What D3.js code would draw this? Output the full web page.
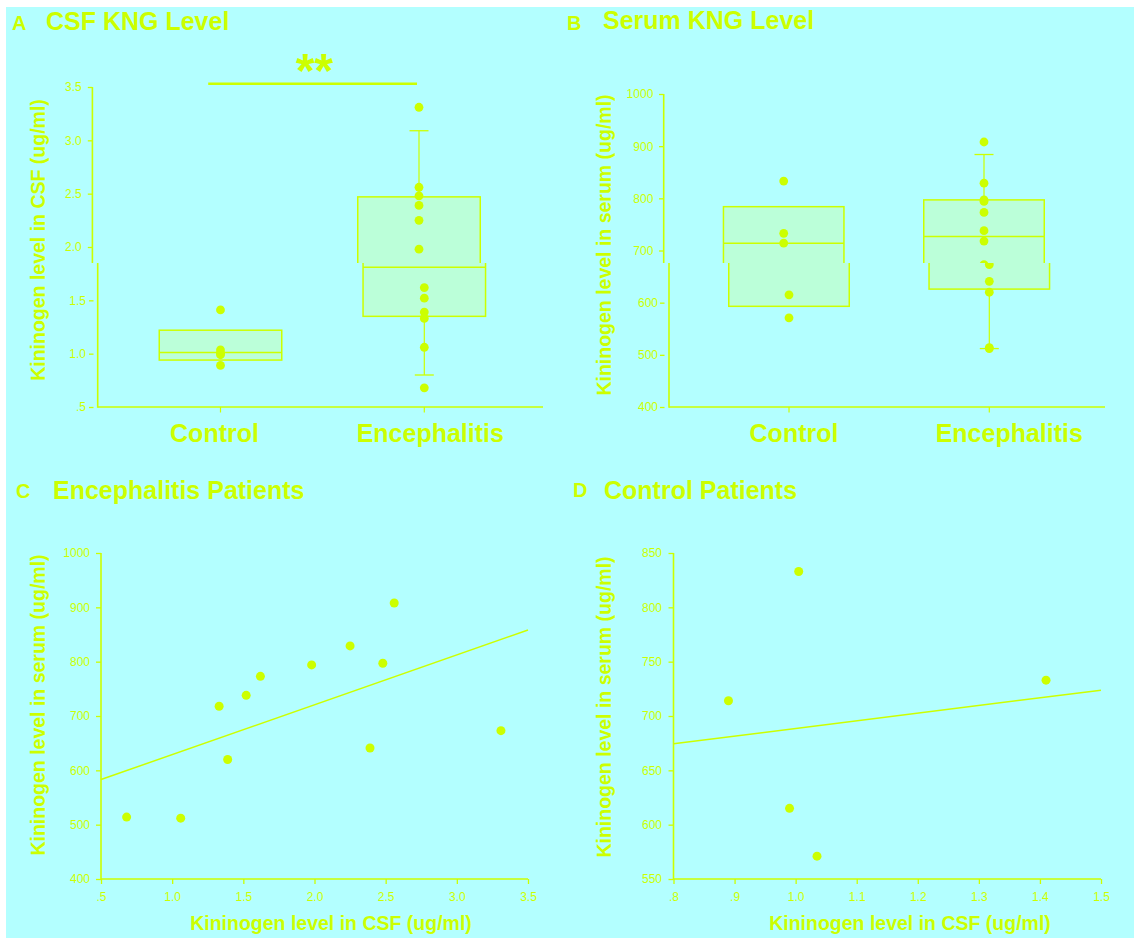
<!DOCTYPE html>
<html><head><meta charset="utf-8">
<script src="https://cdn.jsdelivr.net/npm/d3@7"></script>
<style>
html,body{margin:0;padding:0;background:#ffffff;}
svg{display:block;}
text{font-family:"Liberation Sans",Arial,Helvetica,sans-serif;}
</style>
</head><body>
<svg id="chart" width="1134" height="938"></svg>
<script>
// ---------------- data ----------------
const groups = ["Control", "Encephalitis"];
// CSF kininogen (ug/ml) per patient
const csfControl = [0.89, 0.99, 1.005, 1.035, 1.41];
const csfEnceph = [0.68, 1.06, 1.33, 1.39, 1.52, 1.62, 1.98, 2.25, 2.39, 2.48, 2.56, 3.31];
// Serum kininogen (ug/ml), same patient order
const serumControl = [714, 615, 833, 571, 733];
const serumEnceph = [514, 512, 718, 620, 738, 773, 794, 829, 641, 797, 908, 673];
// box summaries [Control, Encephalitis]
const csfQ1 = [0.94, 1.35], csfMedian = [1.01, 1.81], csfQ3 = [1.22, 2.47];
const csfWhiskerLow = [null, 0.80], csfWhiskerHigh = [null, 3.09];
const serumQ1 = [593, 626], serumMedian = [714, 727], serumQ3 = [784, 797];
const serumWhiskerLow = [null, 512], serumWhiskerHigh = [null, 884];
// ticks
const csfTicksUpper = [2.0, 2.5, 3.0, 3.5], csfTicksLower = [0.5, 1.0, 1.5];
const serumTicksUpper = [700, 800, 900, 1000], serumTicksLower = [400, 500, 600];
const scatterCsfTicks = [0.5, 1.0, 1.5, 2.0, 2.5, 3.0, 3.5];
const scatterSerumTicks = [400, 500, 600, 700, 800, 900, 1000];
const controlCsfTicks = [0.8, 0.9, 1.0, 1.1, 1.2, 1.3, 1.4, 1.5];
const controlSerumTicks = [550, 600, 650, 700, 750, 800, 850];
const titles = ["CSF KNG Level", "Serum KNG Level", "Encephalitis Patients", "Control Patients"];
const letters = ["A", "B", "C", "D"];
const yLabelCsf = "Kininogen level in CSF (ug/ml)";
const yLabelSerum = "Kininogen level in serum (ug/ml)";
const xLabelCsf = "Kininogen level in CSF (ug/ml)";
const sigText = "**";

// ---------------- style ----------------
const YEL = "#ccff00", BG = "#b3ffff", FILL = "#bbffd9";
const svg = d3.select("#chart");
svg.append("rect").attr("x", 6).attr("y", 7).attr("width", 1128).attr("height", 931).attr("fill", BG);
const defs = svg.append("defs");
const BREAK = 263, SHIFT = -5.3;
defs.append("clipPath").attr("id", "cu").append("rect").attr("x", 0).attr("y", 0).attr("width", 1134).attr("height", BREAK);
defs.append("clipPath").attr("id", "cl").append("rect").attr("x", 0).attr("y", BREAK).attr("width", 1134).attr("height", 938 - BREAK);

const fmtDec = d => { const s = d3.format(".1f")(d); return s.startsWith("0") ? s.slice(1) : s; };
const fmtInt = d3.format("d");

// ---------------- scales ----------------
const yA = d3.scaleLinear().domain([0.5, 3.5]).range([407, 87]);
const xA = d3.scalePoint().domain(groups).range([220.5, 424.3]);
const yB = d3.scaleLinear().domain([400, 1000]).range([407, 94]);
const xB = d3.scalePoint().domain(groups).range([789, 989.3]);
const xC = d3.scaleLinear().domain([0.5, 3.5]).range([101, 528]);
const yC = d3.scaleLinear().domain([400, 1000]).range([879, 553]);
const xD = d3.scaleLinear().domain([0.8, 1.5]).range([673.5, 1101]);
const yD = d3.scaleLinear().domain([550, 850]).range([879, 553]);

// ---------------- box panels ----------------
function boxContent(g, dx, o, upper) {
  const cx = name => o.x(name) + dx;
  const data = groups.map((name, i) => ({name, q1: o.q1[i], med: o.med[i], q3: o.q3[i], lo: o.lo[i], hi: o.hi[i], vals: o.vals[i]}));
  const y = o.y;
  g.append("line").attr("x1", o.axisX + dx).attr("x2", o.axisX + dx)
    .attr("y1", y(o.y.domain()[1])).attr("y2", y(o.y.domain()[0]) + 0.75)
    .attr("stroke", YEL).attr("stroke-width", 1.6);
  g.append("line").attr("x1", o.axisX + dx).attr("x2", o.axisRight)
    .attr("y1", y(o.y.domain()[0])).attr("y2", y(o.y.domain()[0]))
    .attr("stroke", YEL).attr("stroke-width", 1.6);
  data.filter(d => d.hi != null).forEach(d => {
    const c = cx(d.name);
    g.append("line").attr("x1", c).attr("x2", c).attr("y1", y(d.q3)).attr("y2", y(d.hi)).attr("stroke", YEL).attr("stroke-width", 1.2);
    g.append("line").attr("x1", c).attr("x2", c).attr("y1", y(d.q1)).attr("y2", y(d.lo)).attr("stroke", YEL).attr("stroke-width", 1.2);
    [d.hi, d.lo].forEach(v => g.append("line").attr("x1", c - o.cap / 2).attr("x2", c + o.cap / 2)
      .attr("y1", y(v)).attr("y2", y(v)).attr("stroke", YEL).attr("stroke-width", 1.3));
  });
  g.selectAll("rect.box").data(data).join("rect").attr("class", "box")
    .attr("x", d => cx(d.name) - o.boxW / 2).attr("width", o.boxW)
    .attr("y", d => y(d.q3)).attr("height", d => y(d.q1) - y(d.q3))
    .attr("fill", FILL).attr("stroke", YEL).attr("stroke-width", 1.5);
  g.selectAll("line.med").data(data).join("line").attr("class", "med")
    .attr("x1", d => cx(d.name) - o.boxW / 2).attr("x2", d => cx(d.name) + o.boxW / 2)
    .attr("y1", d => y(d.med)).attr("y2", d => y(d.med))
    .attr("stroke", YEL).attr("stroke-width", 1.5);
  data.forEach(d => {
    g.selectAll(null).data(d.vals).join("circle")
      .attr("cx", cx(d.name)).attr("cy", v => y(v)).attr("r", 4.4).attr("fill", YEL);
  });
  if (!upper) {
    g.selectAll("line.ct").data(groups).join("line").attr("class", "ct")
      .attr("x1", d => cx(d)).attr("x2", d => cx(d))
      .attr("y1", y(o.y.domain()[0])).attr("y2", y(o.y.domain()[0]) + 5.5)
      .attr("stroke", YEL).attr("stroke-width", 1.2);
  }
  if (o.sig && upper) {
    const x1 = cx(groups[0]) - 7, x2 = cx(groups[1]) - 2;
    g.append("line").attr("x1", x1).attr("x2", x2).attr("y1", 83.7).attr("y2", 83.7)
      .attr("stroke", YEL).attr("stroke-width", 2.6);
    g.append("text").attr("x", (x1 + x2) / 2 + 2).attr("y", 87).attr("text-anchor", "middle")
      .attr("font-size", 48).attr("font-weight", "bold").attr("fill", YEL).text(sigText);
  }
}

const panelA = {x: xA, y: yA, q1: csfQ1, med: csfMedian, q3: csfQ3, lo: csfWhiskerLow, hi: csfWhiskerHigh,
  vals: [csfControl, csfEnceph], boxW: 122.5, cap: 19, axisX: 97.7, axisRight: 543, sig: true};
const panelB = {x: xB, y: yB, q1: serumQ1, med: serumMedian, q3: serumQ3, lo: serumWhiskerLow, hi: serumWhiskerHigh,
  vals: [serumControl, serumEnceph], boxW: 120.5, cap: 19, axisX: 669, axisRight: 1105, sig: false};

[panelA, panelB].forEach(p => {
  boxContent(svg.append("g").attr("clip-path", "url(#cu)"), SHIFT, p, true);
  boxContent(svg.append("g").attr("clip-path", "url(#cl)"), 0, p, false);
});

function yTicks(scale, vals, x, pad, fmt, size) {
  const ax = d3.axisLeft(scale).tickValues(vals).tickSize(size).tickSizeOuter(0).tickPadding(pad).tickFormat(fmt);
  const g = svg.append("g").attr("transform", `translate(${x},0)`).call(ax);
  g.select(".domain").remove();
  g.selectAll(".tick line").attr("stroke", YEL).attr("stroke-width", 1.3);
  g.selectAll(".tick text").attr("fill", YEL).attr("font-size", 12);
  return g;
}
function xTicks(scale, vals, y, fmt) {
  const ax = d3.axisBottom(scale).tickValues(vals).tickSize(5).tickSizeOuter(0).tickPadding(8.3).tickFormat(fmt);
  const g = svg.append("g").attr("transform", `translate(0,${y})`).call(ax);
  g.select(".domain").remove();
  g.selectAll(".tick line").attr("stroke", YEL).attr("stroke-width", 1.3);
  g.selectAll(".tick text").attr("fill", YEL).attr("font-size", 12);
  return g;
}

yTicks(yA, csfTicksUpper, 92.3, 6, fmtDec, 4.5);
yTicks(yA, csfTicksLower, 93.5, 3, fmtDec, 4.5);
yTicks(yB, serumTicksUpper, 663.5, 5.7, fmtInt, 4.5);
yTicks(yB, serumTicksLower, 664.5, 2, fmtInt, 4.5);

// category labels
const catNudgeA = [-6, 6], catNudgeB = [5, 20];
[[xA, catNudgeA], [xB, catNudgeB]].forEach(([sc, nudge]) => {
  svg.selectAll(null).data(groups).join("text")
    .attr("x", (d, i) => sc(d) + nudge[i]).attr("y", 441.7).attr("text-anchor", "middle")
    .attr("font-size", 25).attr("font-weight", "bold").attr("fill", YEL).text(d => d);
});

// ---------------- scatter panels ----------------
function scatter(xs, ys, xv, yv, xt, yt, xPad) {
  const x0 = xs.range()[0], x1 = xs.range()[1], y0 = ys.range()[0], y1 = ys.range()[1];
  svg.append("line").attr("x1", x0).attr("x2", x0).attr("y1", y1).attr("y2", y0 + 0.75).attr("stroke", YEL).attr("stroke-width", 1.6);
  svg.append("line").attr("x1", x0).attr("x2", x1).attr("y1", y0).attr("y2", y0).attr("stroke", YEL).attr("stroke-width", 1.6);
  yTicks(ys, yt, x0, xPad, fmtInt, 5);
  xTicks(xs, xt, y0, fmtDec);
  const mx = d3.mean(xv), my = d3.mean(yv);
  const sxy = d3.sum(xv, (v, i) => (v - mx) * (yv[i] - my));
  const sxx = d3.sum(xv, v => (v - mx) * (v - mx));
  const b = sxy / sxx, a = my - b * mx;
  const dom = xs.domain();
  svg.append("line").attr("x1", xs(dom[0])).attr("x2", xs(dom[1]))
    .attr("y1", ys(a + b * dom[0])).attr("y2", ys(a + b * dom[1]))
    .attr("stroke", YEL).attr("stroke-width", 1.5);
  svg.selectAll(null).data(xv).join("circle")
    .attr("cx", v => xs(v)).attr("cy", (v, i) => ys(yv[i])).attr("r", 4.5).attr("fill", YEL);
}
scatter(xC, yC, csfEnceph, serumEnceph, scatterCsfTicks, scatterSerumTicks, 6);
scatter(xD, yD, csfControl, serumControl, controlCsfTicks, controlSerumTicks, 6.5);

// ---------------- titles and axis labels ----------------
const letterPos = [[12, 29.5], [567, 30], [16, 498], [573, 497]];
const titlePos = [[46, 30], [603, 28.5], [53, 499], [604, 499]];
letters.forEach((l, i) => svg.append("text").attr("x", letterPos[i][0]).attr("y", letterPos[i][1])
  .attr("font-size", 20).attr("font-weight", "bold").attr("fill", YEL).text(l));
titles.forEach((t, i) => svg.append("text").attr("x", titlePos[i][0]).attr("y", titlePos[i][1])
  .attr("font-size", 25).attr("font-weight", "bold").attr("fill", YEL).text(t));

const yLabels = [[yLabelCsf, 45, 240], [yLabelSerum, 610.5, 245], [yLabelSerum, 44.5, 705], [yLabelSerum, 610.5, 707]];
yLabels.forEach(([t, x, y]) => svg.append("text").attr("transform", `translate(${x},${y}) rotate(-90)`)
  .attr("text-anchor", "middle").attr("font-size", 19.5).attr("font-weight", "bold").attr("fill", YEL).text(t));
[[331, 930], [910, 930]].forEach(([x, y]) => svg.append("text").attr("x", x).attr("y", y)
  .attr("text-anchor", "middle").attr("font-size", 19.5).attr("font-weight", "bold").attr("fill", YEL).text(xLabelCsf));
</script>
</body></html>
